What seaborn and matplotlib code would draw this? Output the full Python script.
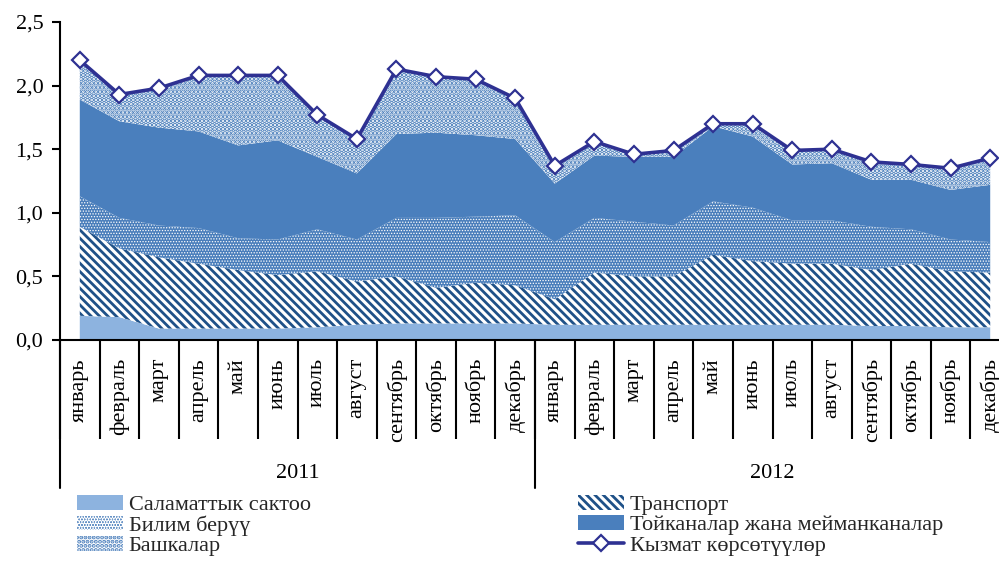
import numpy as np
import pandas as pd
import seaborn as sns
import matplotlib.pyplot as plt
from matplotlib.ticker import FuncFormatter

# monthly values, 2011-2012
months = ['январь', 'февраль', 'март', 'апрель', 'май', 'июнь',
          'июль', 'август', 'сентябрь', 'октябрь', 'ноябрь', 'декабрь']
years = ['2011', '2012']

salam = [0.19, 0.18, 0.09, 0.09, 0.09, 0.09, 0.10, 0.12, 0.13, 0.13, 0.13, 0.13,
         0.12, 0.12, 0.12, 0.12, 0.12, 0.12, 0.12, 0.12, 0.11, 0.11, 0.10, 0.10]
transport = [0.70, 0.54, 0.56, 0.51, 0.46, 0.42, 0.44, 0.34, 0.37, 0.28, 0.32, 0.30,
             0.20, 0.41, 0.38, 0.38, 0.55, 0.50, 0.48, 0.48, 0.44, 0.49, 0.44, 0.43]
bilim = [0.24, 0.24, 0.25, 0.28, 0.25, 0.28, 0.33, 0.33, 0.46, 0.55, 0.52, 0.55,
         0.45, 0.43, 0.43, 0.40, 0.42, 0.42, 0.34, 0.34, 0.34, 0.27, 0.25, 0.24]
toy = [0.76, 0.76, 0.77, 0.76, 0.73, 0.78, 0.57, 0.52, 0.66, 0.67, 0.64, 0.60,
       0.46, 0.49, 0.51, 0.54, 0.59, 0.56, 0.44, 0.45, 0.37, 0.39, 0.39, 0.45]
bashka = [0.31, 0.21, 0.31, 0.44, 0.55, 0.51, 0.33, 0.27, 0.51, 0.44, 0.44, 0.32,
          0.14, 0.11, 0.02, 0.05, 0.02, 0.10, 0.11, 0.11, 0.14, 0.12, 0.17, 0.21]
total = [2.20, 1.93, 1.98, 2.08, 2.08, 2.08, 1.77, 1.58, 2.13, 2.07, 2.05, 1.90,
         1.37, 1.56, 1.46, 1.49, 1.70, 1.70, 1.49, 1.50, 1.40, 1.38, 1.35, 1.43]

names = ['Саламаттык сактоо', 'Транспорт', 'Билим берүү',
         'Тойканалар жана мейманканалар', 'Башкалар']
line_name = 'Кызмат көрсөтүүлөр'

sns.set_theme(style='white')
plt.rcParams['font.family'] = ['Liberation Serif', 'DejaVu Serif']
plt.rcParams['hatch.linewidth'] = 2.0
plt.rcParams['xtick.major.pad'] = 13
FS = 16

n = len(months) * len(years)
df = pd.DataFrame({'pos': np.arange(n), 'month': months * len(years), 'total': total})

fig = plt.figure(figsize=(9.99, 5.63), dpi=100)
ax = fig.add_axes([60 / 999, 1 - 340 / 563, 950 / 999, 318 / 563])

line_c = '#2E3192'
bs = chr(92)
layers = [
    (salam, '#8DB3DF', 'none', None, 0),
    (transport, 'white', '#1F5188', bs * 4, 2.0),
    (bilim, '#4A7EBB', 'white', '.' * 6, 0.6),
    (toy, '#4A7FBD', 'none', None, 0),
    (bashka, 'white', '#4A7EBB', '.' * 4, 2.4),
]

bottom = np.zeros(n)
for name, (vals, face, hcol, hatch, hlw) in zip(names, layers):
    top = bottom + np.array(vals)
    with plt.rc_context({'hatch.linewidth': hlw if hatch else 1.0}):
        coll = ax.fill_between(df['pos'], bottom, top, facecolor=face, edgecolor=hcol,
                               hatch=hatch, linewidth=0, label=name, zorder=2)
    if hatch and hasattr(coll, 'set_hatch_linewidth'):
        coll.set_hatch_linewidth(hlw)
    bottom = top

sns.lineplot(data=df, x='pos', y='total', ax=ax, color=line_c, lw=2.6,
             marker='D', markersize=8.5, markerfacecolor='white',
             markeredgecolor=line_c, markeredgewidth=1.6, legend=False, zorder=5)
ax.get_lines()[-1].set_label(line_name)

ax.set_xlim(-0.5, n - 0.5)
ax.set_ylim(0, 2.5)
ax.set_xlabel('')
ax.set_ylabel('')

ax.set_yticks(np.arange(0, 2.51, 0.5))
ax.yaxis.set_major_formatter(FuncFormatter(lambda v, p: f'{v:.1f}'.replace('.', ',')))
ax.tick_params(axis='y', left=True, length=6, width=1.5, color='black',
               direction='out', pad=6, labelsize=FS, labelcolor='black')

ax.set_xticks(df['pos'])
ax.set_xticklabels(df['month'], rotation=90, va='top', ha='center')
ax.tick_params(axis='x', which='major', bottom=True, length=0, pad=13,
               labelsize=FS, labelcolor='black')
ax.set_xticks(np.arange(-0.5, n), minor=True)
ax.tick_params(axis='x', which='minor', bottom=True, length=71, width=1.5,
               color='black', direction='out')

sns.despine(ax=ax)
for s in ['left', 'bottom']:
    ax.spines[s].set_color('black')
    ax.spines[s].set_linewidth(1.5)

# year separators and labels
xt = ax.get_xaxis_transform()
for i, yr in enumerate(years):
    x0 = i * len(months) - 0.5
    ax.plot([x0, x0], [0, -148 / 318], transform=xt, color='black', lw=1.5,
            clip_on=False)
    ax.text(x0 + len(months) / 2, -0.42, yr, transform=xt, ha='center',
            va='center', fontsize=FS, color='black')

handles, labels = ax.get_legend_handles_labels()
hd = dict(zip(labels, handles))
left_names = [names[0], names[2], names[4]]
right_names = [names[1], names[3], line_name]
leg_kw = dict(loc='upper left', frameon=False, borderpad=0, borderaxespad=0,
              handlelength=2.05, handleheight=0.65, handletextpad=0.28,
              labelspacing=0.0, fontsize=FS)
fig.legend([hd[k] for k in left_names], left_names,
           bbox_to_anchor=(77 / 999, 1 - 495 / 563), **leg_kw)
fig.legend([hd[k] for k in right_names], right_names,
           bbox_to_anchor=(578 / 999, 1 - 495 / 563), **leg_kw)

fig.savefig('out.png', dpi=100)
